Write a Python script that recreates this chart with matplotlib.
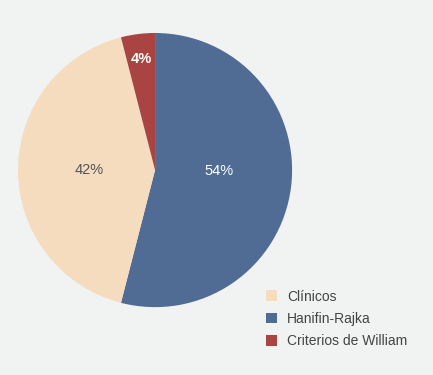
import numpy as np
import matplotlib
matplotlib.use("Agg")
import matplotlib.pyplot as plt
from matplotlib.patches import Patch

labels = ["Hanifin-Rajka", "Clínicos", "Criterios de William"]
values = [54, 42, 4]
colors = ["#506c94", "#f5dcbf", "#a94442"]
pct_colors = ["white", "#555555", "white"]
legend_order = [1, 0, 2]

plt.rcParams['font.family'] = ['Liberation Sans', 'DejaVu Sans']

fig = plt.figure(figsize=(4.33, 3.75), dpi=100)
fig.patch.set_facecolor("#f1f2f2")
ax = fig.add_axes([0.0416, 0.181, 0.633, 0.731])
ax.set_facecolor("#f1f2f2")

wedges, texts, autotexts = ax.pie(values, colors=colors, startangle=90, counterclock=False,
                                  autopct="%d%%", pctdistance=0.48,
                                  wedgeprops=dict(linewidth=0),
                                  textprops=dict(fontsize=10.5))
for t, c in zip(autotexts, pct_colors):
    t.set_color(c)

# big slice label sits level with the centre
autotexts[0].set_position((0.47, -0.01))

# small slice label sits further out
w = wedges[2]
mid = np.deg2rad((w.theta1 + w.theta2) / 2)
autotexts[2].set_position((0.82 * np.cos(mid), 0.82 * np.sin(mid)))
autotexts[2].set_fontweight("bold")

ax.set_xlim(-1, 1)
ax.set_ylim(-1, 1)
ax.set_aspect("auto")

handles = [Patch(facecolor=colors[i], label=labels[i]) for i in legend_order]
fig.legend(handles=handles, loc="upper left", bbox_to_anchor=(0.586, 0.261),
           frameon=False, fontsize=10, labelcolor="#444444",
           handlelength=0.8, handleheight=0.8, handletextpad=0.7, labelspacing=0.6)

fig.savefig("out.png", dpi=100, facecolor=fig.get_facecolor())
